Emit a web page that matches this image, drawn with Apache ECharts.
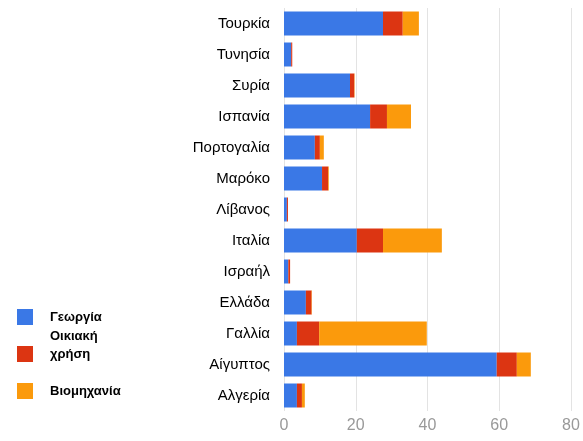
<!DOCTYPE html>
<html><head><meta charset="utf-8">
<script src="https://cdn.jsdelivr.net/npm/echarts@6/dist/echarts.min.js"></script>
<style>html,body{margin:0;padding:0;background:#fff}#c{width:583px;height:441px}</style>
</head><body><div id="c"></div>
<script>
const categories = ['Τουρκία','Τυνησία','Συρία','Ισπανία','Πορτογαλία','Μαρόκο','Λίβανος','Ιταλία','Ισραήλ','Ελλάδα','Γαλλία','Αίγυπτος','Αλγερία'];
const seriesNames = ['Γεωργία','Οικιακή χρήση','Βιομηχανία'];
const agriculture = [27.6, 2.0, 18.4, 24.0, 8.6, 10.6, 0.8, 20.3, 1.2, 6.1, 3.6, 59.3, 3.6];
const domestic    = [5.5, 0.3, 1.2, 4.7, 1.4, 1.7, 0.3, 7.3, 0.5, 1.6, 6.2, 5.6, 1.4];
const industry    = [4.5, 0.0, 0.1, 6.7, 1.1, 0.2, 0.0, 16.4, 0.0, 0.1, 30.0, 3.9, 0.8];
const xTicks = [0, 20, 40, 60, 80];
const colors = ['#3a78e6', '#dc3512', '#fb9a0c'];

const chart = echarts.init(document.getElementById('c'), null, {renderer:'canvas'});
const seriesData = [agriculture, domestic, industry];
const legendTops = [303, 322, 377];
chart.setOption({
  animation: false,
  color: colors,
  grid: {left: 284, right: 12, top: 8, bottom: 30},
  legend: seriesNames.map((n, i) => ({
    data: [n], left: 12, top: legendTops[i], orient: 'vertical',
    itemWidth: 16, itemHeight: 16, icon: 'rect',
    formatter: n === 'Οικιακή χρήση' ? 'Οικιακή\nχρήση\n ' : '{name}',
    textStyle: {fontFamily: 'Liberation Sans, Arial, sans-serif', fontWeight: 'bold', fontSize: 13, color: '#000',
      padding: [0,0,0,12], lineHeight: 18}
  })),
  xAxis: {
    type: 'value', min: xTicks[0], max: xTicks[xTicks.length-1], interval: 20,
    axisLine: {show: false}, axisTick: {show: false},
    splitLine: {lineStyle: {color: '#e3e3e3'}},
    axisLabel: {color: '#999', fontSize: 16, fontFamily: 'Liberation Sans, Arial, sans-serif', margin: 7}
  },
  yAxis: {
    type: 'category', data: categories, inverse: true,
    axisLine: {show: false}, axisTick: {show: false},
    axisLabel: {color: '#000', fontSize: 15, fontFamily: 'Liberation Sans, Arial, sans-serif', margin: 14}
  },
  series: seriesNames.map((n, i) => ({
    name: n, type: 'bar', stack: 'total', data: seriesData[i],
    barWidth: 24, itemStyle: {color: colors[i]}
  }))
});
</script></body></html>
